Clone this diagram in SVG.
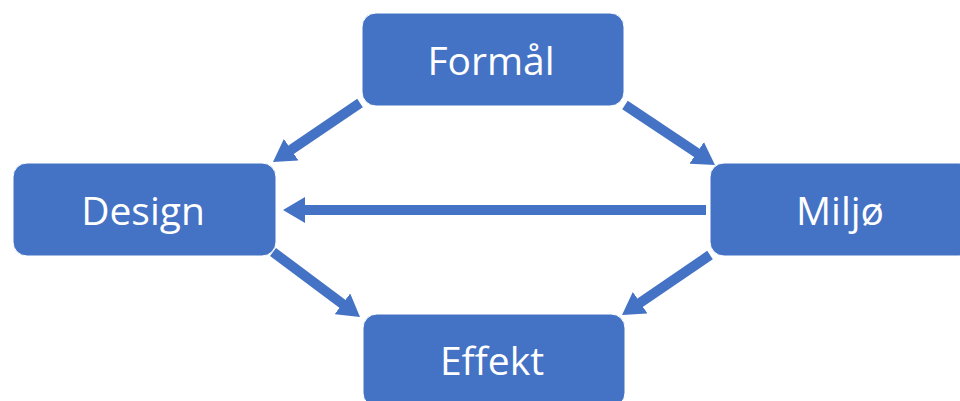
<svg xmlns="http://www.w3.org/2000/svg" width="960" height="401" viewBox="0 0 960 401">
<style>
.node rect{fill:#4472C4;stroke:#ffffff;stroke-width:1}
.node text{fill:#ffffff;font-family:"Open Sans","Liberation Sans",sans-serif;font-size:39px;text-anchor:middle}
.conn line{stroke:#4472C4;stroke-width:10;marker-end:url(#ah)}
</style>
<defs>
<marker id="ah" markerUnits="userSpaceOnUse" markerWidth="22" markerHeight="26" refX="7" refY="13" orient="auto" viewBox="0 0 22 26">
<path d="M0,0 L22,13 L0,26 z" fill="#4472C4"/>
</marker>
</defs>
<rect width="960" height="401" fill="#ffffff"/>
<g id="connectors" class="conn">
<line x1="360" y1="103" x2="285.4" y2="153.6"/>
<line x1="625" y1="105" x2="702.5" y2="156.7"/>
<line x1="273" y1="252" x2="348" y2="308"/>
<line x1="710" y1="255" x2="634.4" y2="306.6"/>
<line x1="706" y1="210" x2="298" y2="210"/>
</g>
<g id="formal" class="node">
<rect x="362" y="13" width="262" height="93" rx="14"/>
<text x="491" y="75">Formål</text>
</g>
<g id="design" class="node">
<rect x="13" y="163" width="263" height="93" rx="14"/>
<text x="143" y="225">Design</text>
</g>
<g id="miljo" class="node">
<rect x="710" y="163" width="263" height="93" rx="14"/>
<text x="840" y="225">Miljø</text>
</g>
<g id="effekt" class="node">
<rect x="363" y="314" width="262" height="93" rx="14"/>
<text x="492" y="375">Effekt</text>
</g>
</svg>
